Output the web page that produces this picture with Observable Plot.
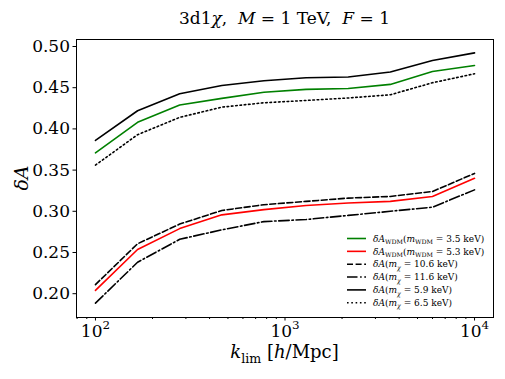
<!DOCTYPE html>
<html><head><meta charset="utf-8">
<script src="https://cdn.jsdelivr.net/npm/d3@7"></script>
<script src="https://cdn.jsdelivr.net/npm/@observablehq/plot@0.6"></script>
<style>body{margin:0;background:#fff} svg{display:block}</style>
</head><body><div id="chart"></div>
<script>
// k_lim values (log-spaced, 10 points from 1e2 to 1e4)
const kLim = [100, 166.81, 278.26, 464.16, 774.26, 1291.55, 2154.43, 3593.81, 5994.84, 10000];
const dA_wdm35 = [0.371, 0.408, 0.429, 0.437, 0.4445, 0.448, 0.449, 0.454, 0.4697, 0.477];
const dA_wdm53 = [0.204, 0.2536, 0.279, 0.2957, 0.302, 0.307, 0.310, 0.312, 0.318, 0.340];
const dA_m106  = [0.211, 0.2606, 0.2845, 0.301, 0.308, 0.312, 0.316, 0.318, 0.324, 0.346];
const dA_m116  = [0.1885, 0.2382, 0.266, 0.2775, 0.2875, 0.290, 0.295, 0.300, 0.305, 0.326];
const dA_m59   = [0.386, 0.422, 0.4426, 0.4527, 0.4585, 0.462, 0.463, 0.469, 0.483, 0.4923];
const dA_m65   = [0.356, 0.393, 0.414, 0.4264, 0.4317, 0.4345, 0.4375, 0.4414, 0.456, 0.4669];
const yTicks = [0.20, 0.25, 0.30, 0.35, 0.40, 0.45, 0.50];
const xMajor = [100, 1000, 10000];
const xMinor = [80, 90, 200, 300, 400, 500, 600, 700, 800, 900, 2000, 3000, 4000, 5000, 6000, 7000, 8000, 9000];

const series = [
  {key: "wdm35", values: dA_wdm35, stroke: "green", dash: null,
   label: [["δ","i"],["A","i"],["WDM","sub"],["(","n"],["m","i"],["WDM","sub"],[" = 3.5 keV)","n"]]},
  {key: "wdm53", values: dA_wdm53, stroke: "red", dash: null,
   label: [["δ","i"],["A","i"],["WDM","sub"],["(","n"],["m","i"],["WDM","sub"],[" = 5.3 keV)","n"]]},
  {key: "m106", values: dA_m106, stroke: "black", dash: "6,2.6",
   label: [["δ","i"],["A","i"],["(","n"],["m","i"],["χ","subi"],[" = 10.6 keV)","n"]]},
  {key: "m116", values: dA_m116, stroke: "black", dash: "10.5,2.6,1.6,2.6",
   label: [["δ","i"],["A","i"],["(","n"],["m","i"],["χ","subi"],[" = 11.6 keV)","n"]]},
  {key: "m59", values: dA_m59, stroke: "black", dash: null,
   label: [["δ","i"],["A","i"],["(","n"],["m","i"],["χ","subi"],[" = 5.9 keV)","n"]]},
  {key: "m65", values: dA_m65, stroke: "black", dash: "1.6,2.7",
   label: [["δ","i"],["A","i"],["(","n"],["m","i"],["χ","subi"],[" = 6.5 keV)","n"]]}
];
const rows = series.flatMap(s => kLim.map((k, i) => ({k, v: s.values[i], key: s.key})));

const FONT = "DejaVu Serif";
const plot = Plot.plot({
  width: 505, height: 379,
  marginLeft: 76, marginRight: 12, marginTop: 39, marginBottom: 62,
  style: {fontFamily: FONT, fontSize: "17px", background: "white", color: "black", overflow: "visible"},
  x: {type: "log", domain: [10 ** 1.9, 10 ** 4.1]},
  y: {domain: [0.1711, 0.5085]},
  marks: [
    Plot.axisX({ticks: xMinor, tickSize: 2, tickFormat: () => "", label: null}),
    Plot.axisX({ticks: xMajor, tickSize: 3.5, tickPadding: 4, tickFormat: d => "10^" + Math.round(Math.log10(d)), label: null}),
    Plot.axisY({ticks: yTicks, tickSize: 3.5, tickPadding: 3, tickFormat: d => d.toFixed(2), label: null}),
    ...series.map(s => Plot.line(rows.filter(r => r.key === s.key), {
      x: "k", y: "v", stroke: s.stroke, strokeWidth: 1.6,
      strokeDasharray: s.dash ?? undefined, strokeLinejoin: "round"
    })),
    Plot.frame({stroke: "black", strokeWidth: 1})
  ]
});

const svg = d3.select(plot);

function rich(textSel, parts, size) {
  let shift = 0;
  for (const [t, st] of parts) {
    const ts = textSel.append("tspan").text(t);
    const isSub = st.startsWith("sub"), isSup = st.startsWith("sup");
    const target = isSub ? size * 0.28 : isSup ? -size * 0.45 : 0;
    ts.attr("dy", target - shift);
    shift = target;
    if (st === "i" || st === "subi") ts.attr("font-style", "italic");
    if (isSub || isSup) ts.attr("font-size", size * 0.7);
  }
}

// superscript tick labels
svg.selectAll("text").each(function() {
  const el = d3.select(this);
  const t = el.text();
  if (t.includes("^")) {
    const [base, exp] = t.split("^");
    el.text("");
    rich(el, [[base, "n"], [exp, "sup"]], 17);
  }
});

// title
const title = svg.append("text").attr("x", 284.5).attr("y", 24).attr("text-anchor", "middle")
  .attr("font-family", FONT).attr("font-size", 17).attr("fill", "black");
rich(title, [["3d1","n"],["χ","i"],[",  ","n"],["M","i"],[" = 1 TeV,  ","n"],["F","i"],[" = 1","n"]], 17);

// x label
const xl = svg.append("text").attr("x", 284.5).attr("y", 358).attr("text-anchor", "middle")
  .attr("font-family", FONT).attr("font-size", 18).attr("fill", "black");
rich(xl, [["k","i"],["lim","sub"],[" [","n"],["h","i"],["/Mpc]","n"]], 18);

// y label
const yl = svg.append("text").attr("transform", "translate(28,178) rotate(-90)").attr("text-anchor", "middle")
  .attr("font-family", FONT).attr("font-size", 19).attr("fill", "black");
rich(yl, [["δ","i"],["A","i"]], 19);

// legend
const lg = svg.append("g").attr("font-family", FONT).attr("font-size", 9).attr("text-anchor", "start");
series.forEach((s, i) => {
  const y = 238.5 + i * 12.85;
  lg.append("line").attr("x1", 347).attr("x2", 366).attr("y1", y).attr("y2", y)
    .attr("stroke", s.stroke).attr("stroke-width", 1.6)
    .attr("stroke-dasharray", s.dash);
  const t = lg.append("text").attr("x", 373).attr("y", y + 3.2).attr("fill", "black").attr("text-anchor", "start");
  rich(t, s.label, 9);
});

document.getElementById("chart").appendChild(plot);
</script>
</body></html>
